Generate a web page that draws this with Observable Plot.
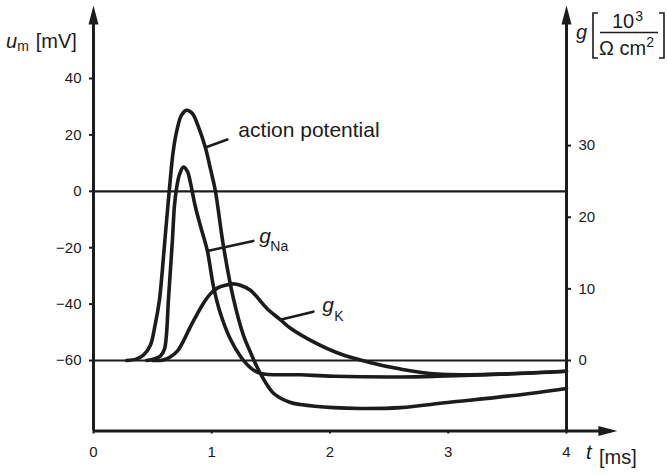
<!DOCTYPE html>
<html>
<head>
<meta charset="utf-8">
<script src="https://cdn.jsdelivr.net/npm/d3@7"></script>
<script src="https://cdn.jsdelivr.net/npm/@observablehq/plot@0.6"></script>
<style>
  html, body { margin: 0; padding: 0; background: #fff; }
  #chart svg { display: block; }
</style>
</head>
<body>
<div id="chart"></div>
<script>
// Membrane potential u_m (mV) over time t (ms) during one action potential
const apTime = [0.28, 0.36, 0.42, 0.48, 0.52, 0.557, 0.582, 0.607, 0.641, 0.675, 0.709, 0.743, 0.785, 0.836, 0.886, 0.946, 0.988, 1.03, 1.098, 1.183, 1.268, 1.327, 1.411, 1.522, 1.666, 1.75, 2.03, 2.258, 2.597, 2.995, 3.554, 4.0];
const apVoltage = [-60, -59.5, -58.2, -54.7, -47.6, -38.7, -28.1, -15.7, 0.3, 14.5, 22.3, 26.9, 28.7, 27.6, 23.0, 15.5, 8.1, 0.3, -19.2, -38.0, -51.1, -57.1, -64.6, -71.6, -74.9, -75.6, -76.7, -77.0, -76.7, -74.9, -72.4, -69.9];

// Sodium conductance g_Na (10^3 / Ω cm²)
const naTime = [0.45, 0.51, 0.565, 0.6, 0.616, 0.633, 0.65, 0.667, 0.684, 0.701, 0.726, 0.76, 0.794, 0.82, 0.861, 0.904, 0.963, 1.014, 1.073, 1.157, 1.242, 1.327, 1.411, 1.75, 2.03, 2.6, 2.91, 3.44, 4.0];
const naConductance = [0, 0.2, 0.6, 1.6, 3.4, 8.3, 12.5, 16.7, 21.5, 23.9, 25.9, 27.0, 26.4, 24.8, 21.5, 18.8, 15.3, 10.4, 6.6, 3.0, 0.6, -1.0, -1.8, -2.0, -2.2, -2.3, -2.2, -1.9, -1.5];

// Potassium conductance g_K (10^3 / Ω cm²)
const kTime = [0.5, 0.59, 0.649, 0.709, 0.76, 0.819, 0.878, 0.93, 0.988, 1.047, 1.115, 1.183, 1.242, 1.327, 1.471, 1.58, 1.666, 1.86, 2.089, 2.318, 2.597, 2.91, 3.44, 4.0];
const kConductance = [0, 0.07, 0.5, 1.3, 2.7, 4.7, 6.5, 8.0, 9.3, 10.1, 10.5, 10.7, 10.5, 9.8, 7.2, 5.7, 4.5, 2.6, 0.9, -0.2, -1.2, -1.9, -1.9, -1.5];

// Tick values
const timeTicks = [0, 1, 2, 3, 4];
const voltTicks = [-60, -40, -20, 0, 20, 40];
const condTicks = [0, 10, 20, 30];

// Both axes share one vertical scale: zero conductance sits at the resting potential
const restPotential = -60;       // mV
const mvPerCondUnit = 2.54;      // mV per 10^3/(Ω cm²)
const toMv = g => restPotential + g * mvPerCondUnit;

// Axis extents (the arrows run a little past the data range)
const vBottom = -85, vTop = 65.9, tEnd = 4, tArrow = 4.43;

const ink = "#1c1c1c";
const font = "'Liberation Sans', Arial, Helvetica, sans-serif";

const ap = apTime.map((t, i) => ({t, v: apVoltage[i]}));
const na = naTime.map((t, i) => ({t, v: toMv(naConductance[i])}));
const k = kTime.map((t, i) => ({t, v: toMv(kConductance[i])}));
const pick = (rows, t) => [rows.find(d => d.t === t)];
const apTag = pick(ap, 0.946), naTag = pick(na, 0.963), kTag = pick(k, 1.58);

// Filled arrowhead, tip at the origin, pointing up
const arrowHead = {
  draw(ctx) { ctx.moveTo(0, 0); ctx.lineTo(5, 19); ctx.lineTo(-5, 19); ctx.closePath(); }
};
// Straight leader line from a curve to its label
const leader = {
  draw(ctx, l) { ctx.moveTo(0, 0); ctx.lineTo(0, -l); }
};

const curve = {x: "t", y: "v", stroke: ink, strokeWidth: 3.6, curve: "catmull-rom", strokeLinejoin: "round", strokeLinecap: "round"};

const chart = Plot.plot({
  width: 667,
  height: 475,
  marginLeft: 93,
  marginRight: 101,
  marginTop: 7.5,
  marginBottom: 44.5,
  style: {fontFamily: font, fontSize: "15px", color: ink, background: "#fff", overflow: "visible"},
  x: {domain: [0, tEnd]},
  y: {domain: [vBottom, 65]},
  marks: [
    // reference lines at 0 mV and at the resting potential
    Plot.ruleY([0, restPotential], {x1: 0, x2: tEnd, stroke: ink, strokeWidth: 2.2}),
    // axis lines
    Plot.ruleX([0, tEnd], {y1: vBottom, y2: vTop - 3, stroke: ink, strokeWidth: 3}),
    Plot.ruleY([vBottom], {x1: 0, x2: tArrow - 0.05, stroke: ink, strokeWidth: 3}),
    Plot.dot([{t: 0}, {t: tEnd}], {x: "t", y: () => vTop, symbol: arrowHead, fill: ink, stroke: null}),
    Plot.dot([{t: tArrow}], {x: "t", y: () => vBottom, symbol: arrowHead, rotate: 90, fill: ink, stroke: null}),
    // curves
    Plot.line(k, curve),
    Plot.line(na, curve),
    Plot.line(ap, curve),
    // leaders and labels
    Plot.vector(apTag, {x: "t", y: "v", length: 23.4, rotate: 70, anchor: "start", shape: leader, stroke: ink, strokeWidth: 2.6}),
    Plot.vector(naTag, {x: "t", y: "v", length: 47, rotate: 77.7, anchor: "start", shape: leader, stroke: ink, strokeWidth: 2.6}),
    Plot.vector(kTag, {x: "t", y: "v", length: 34, rotate: 76.4, anchor: "start", shape: leader, stroke: ink, strokeWidth: 2.6}),
    Plot.text(apTag, {x: "t", y: "v", text: () => "action potential", dx: 33, dy: -11, textAnchor: "start", lineAnchor: "bottom", fontSize: 21, fill: ink}),
    Plot.text(naTag, {x: "t", y: "v", text: () => "g", dx: 52, dy: -8, textAnchor: "start", lineAnchor: "bottom", fontSize: 21, fontStyle: "italic", fill: ink}),
    Plot.text(naTag, {x: "t", y: "v", text: () => "Na", dx: 63, dy: 0, textAnchor: "start", lineAnchor: "bottom", fontSize: 14, fill: ink}),
    Plot.text(kTag, {x: "t", y: "v", text: () => "g", dx: 42, dy: -8, textAnchor: "start", lineAnchor: "bottom", fontSize: 21, fontStyle: "italic", fill: ink}),
    Plot.text(kTag, {x: "t", y: "v", text: () => "K", dx: 54, dy: 1, textAnchor: "start", lineAnchor: "bottom", fontSize: 14, fill: ink}),
    // axes
    Plot.axisX({ticks: timeTicks, tickFormat: d3.format("d"), tickSize: 3, tickPadding: 12, strokeWidth: 2, label: null, fontSize: 15}),
    Plot.axisY({anchor: "left", ticks: voltTicks, tickSize: 4, tickPadding: 8, strokeWidth: 2, label: null, fontSize: 15}),
    Plot.axisY({anchor: "right", ticks: condTicks.map(toMv), tickFormat: d => Math.round((d - restPotential) / mvPerCondUnit), tickSize: 4, tickPadding: 8, strokeWidth: 2, label: null, fontSize: 15})
  ]
});

// Axis titles
const svg = d3.select(chart);
const titles = svg.append("g").attr("font-family", font).attr("fill", ink).attr("text-anchor", "start");

const um = titles.append("text").attr("x", 6).attr("y", 48).attr("font-size", 20);
um.append("tspan").attr("font-style", "italic").text("u");
um.append("tspan").attr("font-size", 14).attr("dy", 3).text("m");
um.append("tspan").attr("dy", -3).attr("dx", 7).text("[mV]");

const gt = titles.append("g");
gt.append("text").attr("x", 576).attr("y", 39).attr("font-size", 20).attr("font-style", "italic").text("g");
gt.append("path").attr("d", "M598,13H593V58H598").attr("fill", "none").attr("stroke", ink).attr("stroke-width", 1.6);
gt.append("path").attr("d", "M659,13H664V58H659").attr("fill", "none").attr("stroke", ink).attr("stroke-width", 1.6);
const num = gt.append("text").attr("x", 612).attr("y", 28).attr("font-size", 20);
num.append("tspan").text("10");
num.append("tspan").attr("font-size", 14).attr("dy", -7).attr("dx", 1).text("3");
gt.append("line").attr("x1", 600).attr("x2", 658).attr("y1", 32.5).attr("y2", 32.5).attr("stroke", ink).attr("stroke-width", 1.5);
const den = gt.append("text").attr("x", 599).attr("y", 55).attr("font-size", 20);
den.append("tspan").text("Ω cm");
den.append("tspan").attr("font-size", 14).attr("dy", -8).text("2");

const tt = titles.append("text").attr("x", 586).attr("y", 459).attr("font-size", 20);
tt.append("tspan").attr("font-style", "italic").text("t");
tt.append("tspan").attr("x", 599).attr("y", 464).text("[ms]");

document.getElementById("chart").append(chart);
</script>
</body>
</html>
